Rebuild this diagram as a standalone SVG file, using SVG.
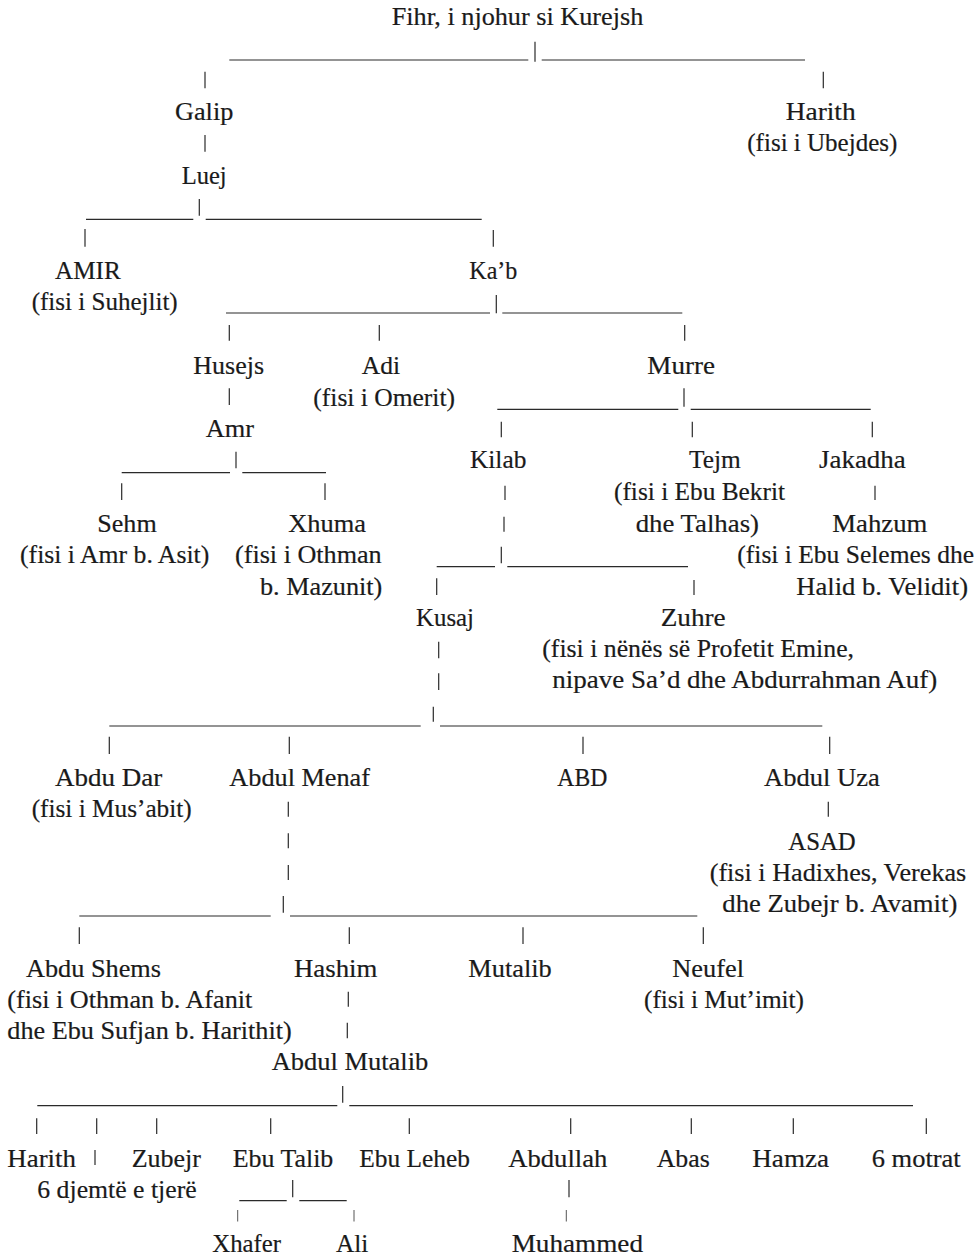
<svg xmlns="http://www.w3.org/2000/svg" width="979" height="1254" viewBox="0 0 979 1254">
<style>
text{font-family:"Liberation Serif","Times New Roman",serif;font-size:25px;fill:#1a1a1a;stroke:#1a1a1a;stroke-width:0.2}
.c line{stroke:#2a2a2a;stroke-width:1.2;fill:none}
.c line.s{stroke-width:0.8}
</style>
<rect width="979" height="1254" fill="#ffffff"/>
<g class="c" id="connectors">
<line x1="229.3" y1="60" x2="528.3" y2="60"/><line x1="541.7" y1="60" x2="805" y2="60"/><line x1="535" y1="41.7" x2="535" y2="61.7"/>
<line x1="205" y1="71.7" x2="205" y2="88.3"/><line x1="823.3" y1="71.7" x2="823.3" y2="88.3"/>
<line x1="205" y1="135" x2="205" y2="151.7"/>
<line x1="86" y1="219.3" x2="193.3" y2="219.3"/><line x1="205.7" y1="219.3" x2="481.7" y2="219.3"/><line x1="199.3" y1="199" x2="199.3" y2="215.7"/>
<line x1="85" y1="229" x2="85" y2="246.7"/><line x1="493.3" y1="230" x2="493.3" y2="246.7"/>
<line x1="226" y1="313" x2="490" y2="313"/><line x1="502.3" y1="313" x2="682.3" y2="313"/><line x1="496.3" y1="295" x2="496.3" y2="313.3"/>
<line x1="229.3" y1="325" x2="229.3" y2="340.7"/><line x1="379.3" y1="325" x2="379.3" y2="340.7"/><line x1="684.7" y1="325" x2="684.7" y2="340.7"/>
<line x1="229.3" y1="388.3" x2="229.3" y2="405"/>
<line x1="497.3" y1="409.3" x2="678.3" y2="409.3"/><line x1="690.7" y1="409.3" x2="870.7" y2="409.3"/><line x1="684" y1="388.3" x2="684" y2="406.7"/>
<line x1="501.3" y1="421.7" x2="501.3" y2="437.3"/><line x1="692.3" y1="421.7" x2="692.3" y2="437.3"/><line x1="872.3" y1="421.7" x2="872.3" y2="437.3"/>
<line x1="121.7" y1="472.7" x2="230" y2="472.7"/><line x1="242.3" y1="472.7" x2="326" y2="472.7"/><line x1="236" y1="451.7" x2="236" y2="468.3"/>
<line x1="121.7" y1="483.3" x2="121.7" y2="500"/><line x1="325" y1="483.3" x2="325" y2="500"/>
<line x1="505" y1="485.7" x2="505" y2="500"/><line x1="504" y1="516.7" x2="504" y2="531.7"/>
<line x1="875" y1="485.7" x2="875" y2="500"/>
<line x1="436.7" y1="566.7" x2="495" y2="566.7"/><line x1="507.3" y1="566.7" x2="688" y2="566.7"/><line x1="501.3" y1="546.7" x2="501.3" y2="563.3"/>
<line x1="436.7" y1="578.3" x2="436.7" y2="595"/><line x1="694" y1="580" x2="694" y2="595"/>
<line x1="438.7" y1="641.7" x2="438.7" y2="658.3"/><line x1="438.7" y1="673.3" x2="438.7" y2="690"/>
<line x1="109.3" y1="726" x2="420.7" y2="726"/><line x1="440" y1="726" x2="822.3" y2="726"/><line x1="433.3" y1="706.7" x2="433.3" y2="721.7"/>
<line x1="109.3" y1="736.7" x2="109.3" y2="754"/><line x1="289.3" y1="736.7" x2="289.3" y2="754"/><line x1="583" y1="736.7" x2="583" y2="754"/><line x1="829.7" y1="736.7" x2="829.7" y2="754"/>
<line x1="288.3" y1="801.7" x2="288.3" y2="816.7"/><line x1="288.3" y1="833.3" x2="288.3" y2="848.3"/><line x1="288.3" y1="865" x2="288.3" y2="880"/>
<line x1="828.3" y1="801.7" x2="828.3" y2="816.7"/>
<line x1="79.3" y1="916" x2="270.7" y2="916"/><line x1="290" y1="916" x2="697.3" y2="916"/><line x1="283.3" y1="896" x2="283.3" y2="912.7"/>
<line x1="79.3" y1="927.3" x2="79.3" y2="944"/><line x1="349.3" y1="927.3" x2="349.3" y2="944"/><line x1="523" y1="927.3" x2="523" y2="944"/><line x1="703.3" y1="927.3" x2="703.3" y2="944"/>
<line x1="348.3" y1="991.7" x2="348.3" y2="1006.7"/><line x1="347.3" y1="1022.7" x2="347.3" y2="1038.3"/>
<line x1="37.3" y1="1105.7" x2="337.3" y2="1105.7"/><line x1="349.3" y1="1105.7" x2="913" y2="1105.7"/><line x1="342.7" y1="1086" x2="342.7" y2="1102.7"/>
<line x1="36.7" y1="1118.3" x2="36.7" y2="1134"/><line x1="96.7" y1="1118.3" x2="96.7" y2="1134"/><line x1="156.7" y1="1118.3" x2="156.7" y2="1134"/><line x1="270.7" y1="1118.3" x2="270.7" y2="1134"/><line x1="409.3" y1="1118.3" x2="409.3" y2="1134"/><line x1="570.7" y1="1118.3" x2="570.7" y2="1134"/><line x1="691.3" y1="1118.3" x2="691.3" y2="1134"/><line x1="793.3" y1="1118.3" x2="793.3" y2="1134"/><line x1="926.3" y1="1118.3" x2="926.3" y2="1134"/>
<line x1="95" y1="1150" x2="95" y2="1165"/>
<line x1="239.3" y1="1200.7" x2="286.7" y2="1200.7"/><line x1="299.3" y1="1200.7" x2="346.7" y2="1200.7"/><line x1="292.7" y1="1180" x2="292.7" y2="1197.3"/>
<line x1="569" y1="1180" x2="569" y2="1197.3"/>
<line class="s" x1="237.7" y1="1210" x2="237.7" y2="1221.5"/><line class="s" x1="354" y1="1210" x2="354" y2="1221.5"/><line class="s" x1="566.3" y1="1210" x2="566.3" y2="1221.5"/>
</g>
<g id="fihr"><text x="391.7" y="25" textLength="251.6" lengthAdjust="spacingAndGlyphs">Fihr, i njohur si Kurejsh</text></g>
<g id="galip"><text x="175" y="120" textLength="58.3" lengthAdjust="spacingAndGlyphs">Galip</text></g>
<g id="luej"><text x="181.7" y="184" textLength="45" lengthAdjust="spacingAndGlyphs">Luej</text></g>
<g id="harith-top"><text x="785.7" y="120" textLength="70" lengthAdjust="spacingAndGlyphs">Harith</text><text x="747.3" y="150.7" textLength="150" lengthAdjust="spacingAndGlyphs">(fisi i Ubejdes)</text></g>
<g id="amir"><text x="55" y="279.3" textLength="65.7" lengthAdjust="spacingAndGlyphs">AMIR</text><text x="31.7" y="309.5" textLength="146" lengthAdjust="spacingAndGlyphs">(fisi i Suhejlit)</text></g>
<g id="kab"><text x="469.3" y="279.3" textLength="48" lengthAdjust="spacingAndGlyphs">Ka’b</text></g>
<g id="husejs"><text x="193.3" y="374" textLength="70.7" lengthAdjust="spacingAndGlyphs">Husejs</text></g>
<g id="adi"><text x="361.7" y="374" textLength="38.3" lengthAdjust="spacingAndGlyphs">Adi</text><text x="313.3" y="406" textLength="141.7" lengthAdjust="spacingAndGlyphs">(fisi i Omerit)</text></g>
<g id="murre"><text x="647.3" y="374" textLength="67.7" lengthAdjust="spacingAndGlyphs">Murre</text></g>
<g id="amr"><text x="205.7" y="437.3" textLength="48.3" lengthAdjust="spacingAndGlyphs">Amr</text></g>
<g id="kilab"><text x="470" y="468.3" textLength="56.3" lengthAdjust="spacingAndGlyphs">Kilab</text></g>
<g id="tejm"><text x="689" y="468.3" textLength="51.7" lengthAdjust="spacingAndGlyphs">Tejm</text><text x="614" y="500" textLength="171" lengthAdjust="spacingAndGlyphs">(fisi i Ebu Bekrit</text><text x="635.7" y="531.7" textLength="123.3" lengthAdjust="spacingAndGlyphs">dhe Talhas)</text></g>
<g id="jakadha"><text x="819" y="468.3" textLength="86.7" lengthAdjust="spacingAndGlyphs">Jakadha</text></g>
<g id="sehm"><text x="97.3" y="531.7" textLength="59.4" lengthAdjust="spacingAndGlyphs">Sehm</text><text x="20" y="562.7" textLength="189.3" lengthAdjust="spacingAndGlyphs">(fisi i Amr b. Asit)</text></g>
<g id="xhuma"><text x="288.3" y="531.7" textLength="77.7" lengthAdjust="spacingAndGlyphs">Xhuma</text><text x="235" y="562.7" textLength="146.7" lengthAdjust="spacingAndGlyphs">(fisi i Othman</text><text x="260" y="595" textLength="122.3" lengthAdjust="spacingAndGlyphs">b. Mazunit)</text></g>
<g id="mahzum"><text x="832.3" y="531.7" textLength="95" lengthAdjust="spacingAndGlyphs">Mahzum</text><text x="737.3" y="563.3" textLength="236.7" lengthAdjust="spacingAndGlyphs">(fisi i Ebu Selemes dhe</text><text x="796.3" y="595" textLength="171.7" lengthAdjust="spacingAndGlyphs">Halid b. Velidit)</text></g>
<g id="kusaj"><text x="416" y="626" textLength="58" lengthAdjust="spacingAndGlyphs">Kusaj</text></g>
<g id="zuhre"><text x="660.7" y="626" textLength="65" lengthAdjust="spacingAndGlyphs">Zuhre</text><text x="542.3" y="656.7" textLength="311.7" lengthAdjust="spacingAndGlyphs">(fisi i nënës së Profetit Emine,</text><text x="552.3" y="688.3" textLength="385" lengthAdjust="spacingAndGlyphs">nipave Sa’d dhe Abdurrahman Auf)</text></g>
<g id="abdu-dar"><text x="55" y="785.7" textLength="107.3" lengthAdjust="spacingAndGlyphs">Abdu Dar</text><text x="31.7" y="816.7" textLength="160" lengthAdjust="spacingAndGlyphs">(fisi i Mus’abit)</text></g>
<g id="abdul-menaf"><text x="229.3" y="785.7" textLength="140.7" lengthAdjust="spacingAndGlyphs">Abdul Menaf</text></g>
<g id="abd"><text x="557.3" y="785.7" textLength="50" lengthAdjust="spacingAndGlyphs">ABD</text></g>
<g id="abdul-uza"><text x="764" y="785.7" textLength="115.7" lengthAdjust="spacingAndGlyphs">Abdul Uza</text></g>
<g id="asad"><text x="788.3" y="850" textLength="67.4" lengthAdjust="spacingAndGlyphs">ASAD</text><text x="709.7" y="880.7" textLength="256.6" lengthAdjust="spacingAndGlyphs">(fisi i Hadixhes, Verekas</text><text x="722.3" y="911.7" textLength="235" lengthAdjust="spacingAndGlyphs">dhe Zubejr b. Avamit)</text></g>
<g id="abdu-shems"><text x="26" y="976.7" textLength="135" lengthAdjust="spacingAndGlyphs">Abdu Shems</text><text x="7.3" y="1007.7" textLength="245" lengthAdjust="spacingAndGlyphs">(fisi i Othman b. Afanit</text><text x="7.3" y="1039.3" textLength="284.4" lengthAdjust="spacingAndGlyphs">dhe Ebu Sufjan b. Harithit)</text></g>
<g id="hashim"><text x="294" y="976.7" textLength="83.3" lengthAdjust="spacingAndGlyphs">Hashim</text></g>
<g id="mutalib"><text x="468.3" y="976.7" textLength="83.4" lengthAdjust="spacingAndGlyphs">Mutalib</text></g>
<g id="neufel"><text x="672.3" y="976.7" textLength="71.7" lengthAdjust="spacingAndGlyphs">Neufel</text><text x="644" y="1007.7" textLength="160" lengthAdjust="spacingAndGlyphs">(fisi i Mut’imit)</text></g>
<g id="abdul-mutalib"><text x="271.7" y="1070" textLength="156.6" lengthAdjust="spacingAndGlyphs">Abdul Mutalib</text></g>
<g id="harith"><text x="7.3" y="1166.7" textLength="68.7" lengthAdjust="spacingAndGlyphs">Harith</text></g>
<g id="djemte"><text x="37.3" y="1197.7" textLength="159.4" lengthAdjust="spacingAndGlyphs">6 djemtë e tjerë</text></g>
<g id="zubejr"><text x="131.7" y="1166.7" textLength="69.3" lengthAdjust="spacingAndGlyphs">Zubejr</text></g>
<g id="ebu-talib"><text x="232.7" y="1166.7" textLength="100.6" lengthAdjust="spacingAndGlyphs">Ebu Talib</text></g>
<g id="ebu-leheb"><text x="359.3" y="1166.7" textLength="110.7" lengthAdjust="spacingAndGlyphs">Ebu Leheb</text></g>
<g id="abdullah"><text x="508.3" y="1166.7" textLength="99" lengthAdjust="spacingAndGlyphs">Abdullah</text></g>
<g id="abas"><text x="656.7" y="1166.7" textLength="53" lengthAdjust="spacingAndGlyphs">Abas</text></g>
<g id="hamza"><text x="752.3" y="1166.7" textLength="76.7" lengthAdjust="spacingAndGlyphs">Hamza</text></g>
<g id="motrat"><text x="871.7" y="1166.7" textLength="89" lengthAdjust="spacingAndGlyphs">6 motrat</text></g>
<g id="xhafer"><text x="212.3" y="1251.5" textLength="68.7" lengthAdjust="spacingAndGlyphs">Xhafer</text></g>
<g id="ali"><text x="336" y="1251.5" textLength="32.3" lengthAdjust="spacingAndGlyphs">Ali</text></g>
<g id="muhammed"><text x="511.7" y="1251.5" textLength="131.3" lengthAdjust="spacingAndGlyphs">Muhammed</text></g>
</svg>
